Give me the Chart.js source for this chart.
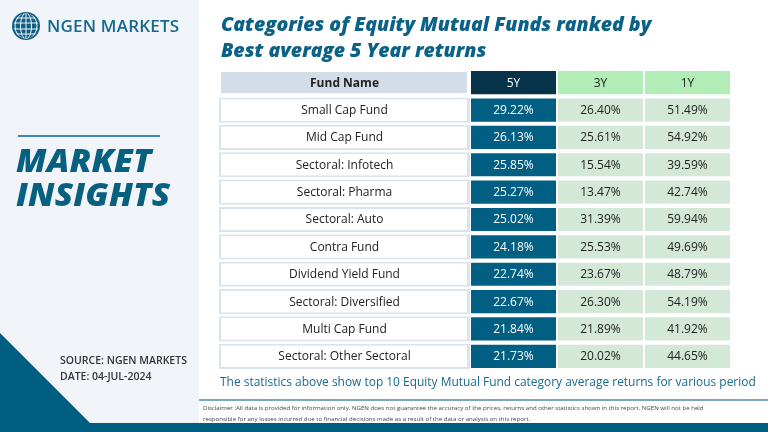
<!DOCTYPE html>
<html lang="en">
<head>
<meta charset="UTF-8" />
<title>Equity Mutual Fund Categories - 5Y returns</title>
<script src="https://cdn.jsdelivr.net/npm/chart.js@4.4.1/dist/chart.umd.min.js"></script>
<style>
  html, body { margin: 0; padding: 0; }
  body { width: 768px; height: 432px; position: relative; overflow: hidden; background: #fff; font-family: "Open Sans", sans-serif; }
  #side { position: absolute; left: 0; top: 0; width: 199px; height: 432px; background: #f1f5fa; }
  #deco { position: absolute; left: 0; top: 0; }
  .abs { position: absolute; white-space: nowrap; }
  #brand { left: 47px; top: 14px; font-size: 17px; font-weight: 600; color: #14698f; letter-spacing: 0.2px; }
  #insights { left: 16px; top: 143px; font-size: 31px; line-height: 34px; font-weight: 800; font-style: italic; color: #07607f; letter-spacing: 0.2px; transform: scaleX(1.08); transform-origin: left top; }
  #source { left: 60px; top: 352px; font-size: 10.5px; line-height: 16px; font-weight: 600; color: #333; }
  #title { left: 221px; top: 11px; font-size: 19.5px; line-height: 26px; font-weight: 800; font-style: italic; color: #0b6186; }
  #caption { left: 220px; top: 373px; font-size: 11.95px; font-weight: 500; color: #19698f; }
  #disc { left: 203px; top: 402px; font-size: 6.1px; line-height: 11px; color: #444; }
  #wrap { position: absolute; left: 219px; top: 69px; width: 512px; height: 301px; }
</style>
</head>
<body>
<div id="side"></div>
<canvas id="deco" width="768" height="432"></canvas>
<div class="abs" id="brand">NGEN MARKETS</div>
<div class="abs" id="insights">MARKET<br>INSIGHTS</div>
<div class="abs" id="source">SOURCE: NGEN MARKETS<br>DATE: 04-JUL-2024</div>
<div class="abs" id="title">Categories of Equity Mutual Funds ranked by<br>Best average 5 Year returns</div>
<div id="wrap"><canvas id="chart"></canvas></div>
<div class="abs" id="caption">The statistics above show top 10 Equity Mutual Fund category average returns for various period</div>
<div class="abs" id="disc">Disclaimer :All data is provided for information only. NGEN does not guarantee the accuracy of the prices, returns and other statistics shown in this report. NGEN will not be held<br>responsible for any losses incurred due to financial decisions made as a result of the data or analysis on this report.</div>
<script>
// table data
const headers = ['Fund Name', '5Y', '3Y', '1Y'];
const funds = ['Small Cap Fund', 'Mid Cap Fund', 'Sectoral: Infotech', 'Sectoral: Pharma', 'Sectoral: Auto',
  'Contra Fund', 'Dividend Yield Fund', 'Sectoral: Diversified', 'Multi Cap Fund', 'Sectoral: Other Sectoral'];
const ret5Y = [29.22, 26.13, 25.85, 25.27, 25.02, 24.18, 22.74, 22.67, 21.84, 21.73];
const ret3Y = [26.40, 25.61, 15.54, 13.47, 31.39, 25.53, 23.67, 26.30, 21.89, 20.02];
const ret1Y = [51.49, 54.92, 39.59, 42.74, 59.94, 49.69, 48.79, 54.19, 41.92, 44.65];

// layout: column widths in px units of the x scale
const colWidth = [251, 87, 87, 87];

// background decoration (globe, rules, footer bar)
const d = document.getElementById('deco').getContext('2d');
d.fillStyle = '#005f80';
d.beginPath();
d.moveTo(0, 333); d.lineTo(90, 423); d.lineTo(768, 423); d.lineTo(768, 432); d.lineTo(0, 432);
d.closePath(); d.fill();
d.strokeStyle = '#3b89ad'; d.lineWidth = 2;
d.beginPath(); d.moveTo(18, 136); d.lineTo(160, 136); d.stroke();
d.strokeStyle = '#4d8aa8'; d.lineWidth = 1.5;
d.beginPath(); d.moveTo(199, 400); d.lineTo(768, 400); d.stroke();
// globe
d.fillStyle = '#0e5f84';
d.beginPath(); d.arc(26, 26, 14, 0, Math.PI * 2); d.fill();
d.save();
d.beginPath(); d.arc(26, 26, 12.5, 0, Math.PI * 2); d.clip();
d.strokeStyle = '#f1f5fa'; d.lineWidth = 1;
[-8, -3, 3, 8].forEach(o => { d.beginPath(); d.moveTo(10, 26 + o); d.lineTo(42, 26 + o); d.stroke(); });
[5.5, 11].forEach(r => { d.beginPath(); d.ellipse(26, 26, r, 13, 0, 0, Math.PI * 2); d.stroke(); });
d.beginPath(); d.moveTo(26, 12); d.lineTo(26, 40); d.stroke();
d.restore();

const rows = [headers[0]].concat(funds);
const fmt = v => v.toFixed(2) + '%';
const colValues = [rows, [headers[1]].concat(ret5Y.map(fmt)), [headers[2]].concat(ret3Y.map(fmt)), [headers[3]].concat(ret1Y.map(fmt))];

const headFill = ['#d3dde8', '#063349', '#b2ecb7', '#b2ecb7'];
const bodyFill = ['#ffffff', '#005f83', '#d3e8d6', '#d3e8d6'];
const bodyText = ['#222', '#ffffff', '#222', '#222'];

const datasets = colWidth.map((w, c) => ({
  label: headers[c],
  data: rows.map(() => w),
  backgroundColor: ctx => ctx.dataIndex === 0 ? headFill[c] : bodyFill[c],
  borderColor: ctx => (c === 0 && ctx.dataIndex > 0) ? '#dbe4ee' : '#ffffff',
  borderWidth: c === 0 ? { top: 2, bottom: 2, left: 2, right: 3 } : 1,
  borderSkipped: false,
  barPercentage: 0.92,
  categoryPercentage: 1
}));

const cellText = {
  id: 'cellText',
  afterDatasetsDraw(chart) {
    const ctx = chart.ctx;
    ctx.save();
    ctx.textAlign = 'center';
    ctx.textBaseline = 'middle';
    chart.data.datasets.forEach((ds, c) => {
      chart.getDatasetMeta(c).data.forEach((el, r) => {
        const head = r === 0;
        ctx.fillStyle = head ? (c === 1 ? '#ffffff' : '#222') : bodyText[c];
        ctx.font = (head && c === 0 ? '700 ' : '500 ') + '12px "Open Sans", sans-serif';
        ctx.fillText(colValues[c][r], (el.x + el.base) / 2, el.y + 0.5);
      });
    });
    ctx.restore();
  }
};

new Chart(document.getElementById('chart'), {
  type: 'bar',
  data: { labels: rows, datasets: datasets },
  options: {
    indexAxis: 'y',
    responsive: true,
    maintainAspectRatio: false,
    animation: false,
    layout: { padding: 0 },
    plugins: { legend: { display: false }, tooltip: { enabled: false } },
    scales: {
      x: { stacked: true, min: 0, max: 512, display: false },
      y: { stacked: true, display: false, offset: true }
    }
  },
  plugins: [cellText]
});
</script>
</body>
</html>
